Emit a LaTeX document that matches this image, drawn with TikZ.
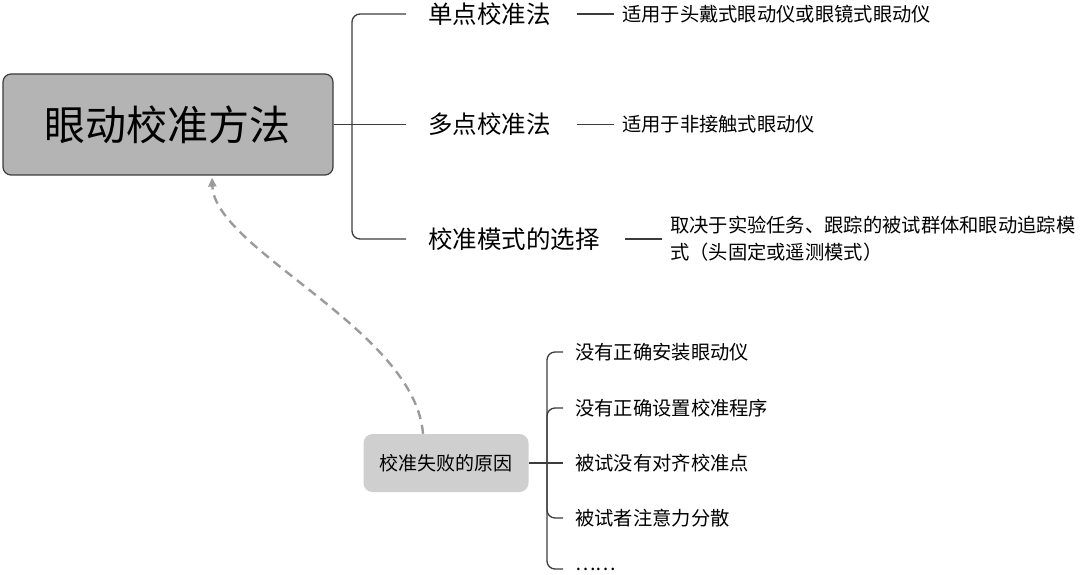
\documentclass[tikz,border=0pt]{standalone}
\usepackage{fontspec}
\setmainfont{Noto Sans CJK SC}
\usetikzlibrary{positioning, calc, arrows.meta}

\definecolor{rootgray}{HTML}{B4B4B4}
\definecolor{failgray}{HTML}{CFCFCF}
\definecolor{linegray}{HTML}{3C3C3C}
\definecolor{dashgray}{HTML}{9B9B9B}

\begin{document}
\begin{tikzpicture}[x=1pt, y=-1pt, >={Triangle[length=9pt, width=8pt]}]
	\tikzstyle{root} = [draw=linegray, line width=1.2pt, fill=rootgray, rounded corners=8pt, minimum width=330pt, minimum height=101pt, font=\fontsize{41}{41}\selectfont]
	\tikzstyle{fail} = [fill=failgray, rounded corners=9pt, minimum width=165pt, minimum height=58pt, font=\fontsize{19}{19}\selectfont]
	\tikzstyle{topic} = [anchor=west, inner sep=0pt, font=\fontsize{24.5}{26}\selectfont]
	\tikzstyle{note} = [anchor=west, inner sep=0pt, align=left, font=\fontsize{19.3}{27}\selectfont]
	\tikzstyle{link} = [draw=linegray, line width=1.3pt, rounded corners=8pt]

	\useasboundingbox (0,0) rectangle (1080,575);

	% main topic and its branches
	\node[root] (eye) at (168,124.5) {眼动校准方法};
	\coordinate (spine) at (352,124.5);

	\node[topic] (single) at (428,14) {单点校准法};
	\node[topic] (multi) at (428,124.5) {多点校准法};
	\node[topic] (mode) at (428,239) {校准模式的选择};

	\node[note, right=71pt of single] (singlenote) {适用于头戴式眼动仪或眼镜式眼动仪};
	\node[note, right=71pt of multi] (multinote) {适用于非接触式眼动仪};
	\node[note, right=70pt of mode] (modenote) {取决于实验任务、跟踪的被试群体和眼动追踪模\\式（头固定或遥测模式）};

	\draw[link] (eye.east) -- (spine);
	\draw[link] (spine) |- ([xshift=-22pt]single.west);
	\draw[link] (spine) -- ([xshift=-22pt]multi.west);
	\draw[link] (spine) |- ([xshift=-22pt]mode.west);

	\draw[link] ([xshift=26pt]single.east) -- ([xshift=-8pt]singlenote.west);
	\draw[link] ([xshift=26pt]multi.east) -- ([xshift=-8pt]multinote.west);
	\draw[link] ([xshift=25pt]mode.east) -- ([xshift=-8pt]modenote.west);

	% reasons for failure
	\node[fail] (failure) at (446,463) {校准失败的原因};
	\coordinate (spine2) at (547,463);

	\node[note] (r1) at (575,352) {没有正确安装眼动仪};
	\node[note] (r2) at (575,408) {没有正确设置校准程序};
	\node[note] (r3) at (575,463) {被试没有对齐校准点};
	\node[note] (r4) at (575,518) {被试者注意力分散};
	\node[note] (r5) at (575,569) {……};

	\draw[link] (failure.east) -- (spine2);
	\draw[link] (spine2) |- ([xshift=-12pt]r1.west);
	\draw[link] (spine2) |- ([xshift=-12pt]r2.west);
	\draw[link] (spine2) -- ([xshift=-12pt]r3.west);
	\draw[link] (spine2) |- ([xshift=-12pt]r4.west);
	\draw[link] (spine2) |- ([xshift=-12pt]r5.west);

	% back to the main topic
	\draw[->, draw=dashgray, line width=2.4pt, dash pattern=on 9pt off 6pt]
		([xshift=-23pt]failure.north) .. controls (415,330) and (215,250) .. ([xshift=44pt, yshift=-2pt]eye.south);
\end{tikzpicture}
\end{document}
